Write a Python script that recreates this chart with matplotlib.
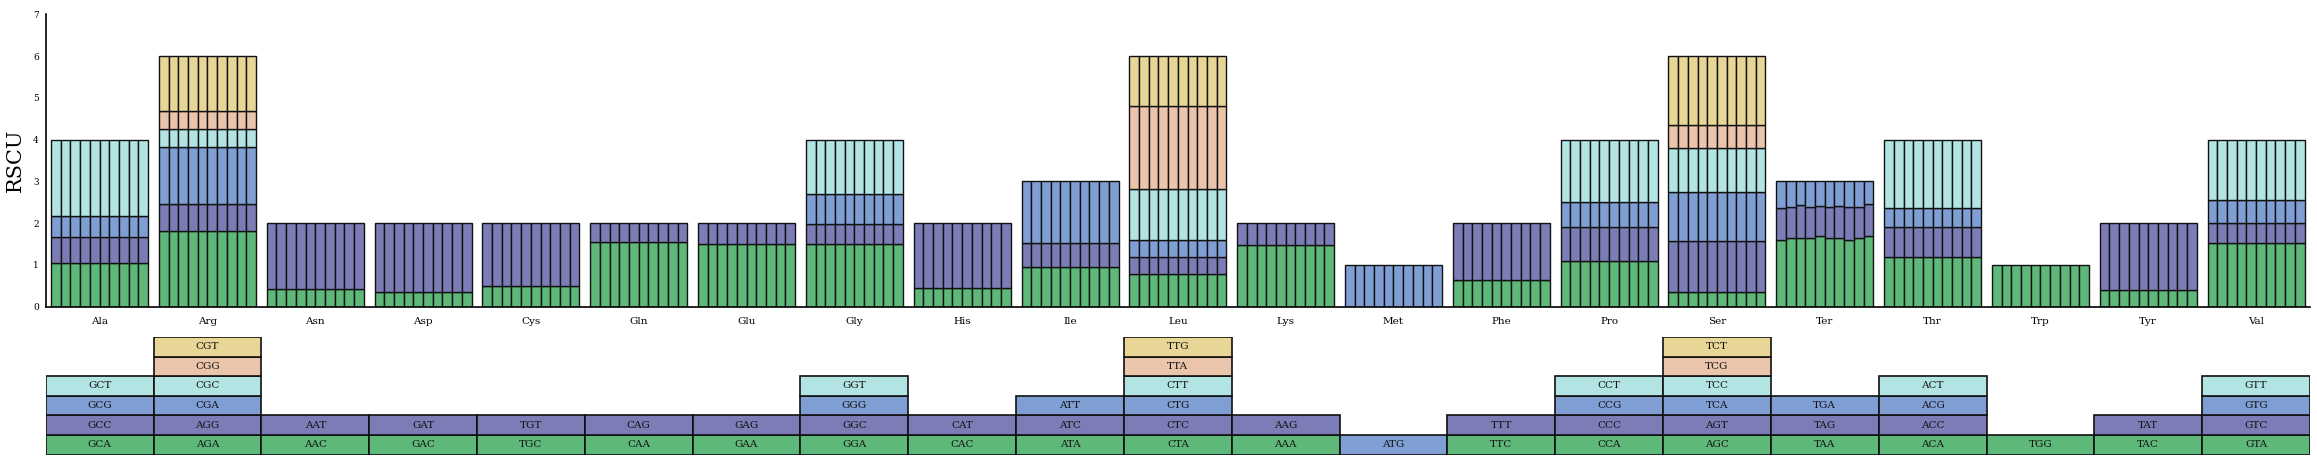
import numpy as np
import matplotlib
matplotlib.use("Agg")
import matplotlib.pyplot as plt
from matplotlib.patches import Rectangle

# ---------------- data ----------------
amino_acids = ['Ala', 'Arg', 'Asn', 'Asp', 'Cys', 'Gln', 'Glu', 'Gly', 'His', 'Ile',
               'Leu', 'Lys', 'Met', 'Phe', 'Pro', 'Ser', 'Ter', 'Thr', 'Trp', 'Tyr', 'Val']
n_samples = 10

ala_codons = ['GCA', 'GCC', 'GCG', 'GCT']
ala_rscu = [1.05, 0.63, 0.49, 1.83]
arg_codons = ['AGA', 'AGG', 'CGA', 'CGC', 'CGG', 'CGT']
arg_rscu = [1.81, 0.66, 1.36, 0.42, 0.43, 1.32]
asn_codons = ['AAC', 'AAT']
asn_rscu = [0.43, 1.57]
asp_codons = ['GAC', 'GAT']
asp_rscu = [0.36, 1.64]
cys_codons = ['TGC', 'TGT']
cys_rscu = [0.50, 1.50]
gln_codons = ['CAA', 'CAG']
gln_rscu = [1.55, 0.45]
glu_codons = ['GAA', 'GAG']
glu_rscu = [1.51, 0.49]
gly_codons = ['GGA', 'GGC', 'GGG', 'GGT']
gly_rscu = [1.50, 0.48, 0.71, 1.31]
his_codons = ['CAC', 'CAT']
his_rscu = [0.44, 1.56]
ile_codons = ['ATA', 'ATC', 'ATT']
ile_rscu = [0.95, 0.57, 1.48]
leu_codons = ['CTA', 'CTC', 'CTG', 'CTT', 'TTA', 'TTG']
leu_rscu = [0.78, 0.41, 0.42, 1.21, 1.98, 1.20]
lys_codons = ['AAA', 'AAG']
lys_rscu = [1.49, 0.51]
met_codons = ['ATG']
met_rscu = [1.00]
phe_codons = ['TTC', 'TTT']
phe_rscu = [0.65, 1.35]
pro_codons = ['CCA', 'CCC', 'CCG', 'CCT']
pro_rscu = [1.10, 0.81, 0.59, 1.50]
ser_codons = ['AGC', 'AGT', 'TCA', 'TCC', 'TCG', 'TCT']
ser_rscu = [0.35, 1.23, 1.17, 1.05, 0.55, 1.65]
ter_codons = ['TAA', 'TAG', 'TGA']
ter_taa = [1.60, 1.64, 1.65, 1.64, 1.69, 1.64, 1.65, 1.61, 1.64, 1.69]
ter_tag = [0.76, 0.75, 0.79, 0.74, 0.73, 0.74, 0.76, 0.77, 0.75, 0.77]
ter_tga = [0.64, 0.61, 0.56, 0.62, 0.58, 0.62, 0.59, 0.62, 0.61, 0.54]
thr_codons = ['ACA', 'ACC', 'ACG', 'ACT']
thr_rscu = [1.19, 0.73, 0.45, 1.63]
trp_codons = ['TGG']
trp_rscu = [1.00]
tyr_codons = ['TAC', 'TAT']
tyr_rscu = [0.40, 1.60]
val_codons = ['GTA', 'GTC', 'GTG', 'GTT']
val_rscu = [1.53, 0.47, 0.55, 1.45]

codon_lists = [ala_codons, arg_codons, asn_codons, asp_codons, cys_codons, gln_codons,
               glu_codons, gly_codons, his_codons, ile_codons, leu_codons, lys_codons,
               met_codons, phe_codons, pro_codons, ser_codons, ter_codons, thr_codons,
               trp_codons, tyr_codons, val_codons]
rscu_lists = [ala_rscu, arg_rscu, asn_rscu, asp_rscu, cys_rscu, gln_rscu, glu_rscu,
              gly_rscu, his_rscu, ile_rscu, leu_rscu, lys_rscu, met_rscu, phe_rscu,
              pro_rscu, ser_rscu, [ter_taa, ter_tag, ter_tga], thr_rscu, trp_rscu,
              tyr_rscu, val_rscu]

# ---------------- style ----------------
palette = ['#5EB87A', '#7C7CB6', '#7F9FD4', '#B3E4E4', '#EBC5AB', '#E8D697']
special_color_index = {'Met': 2}
edge = '#111111'
serif = 'DejaVu Serif'

W, H = 2317, 462
fig = plt.figure(figsize=(W / 100, H / 100), dpi=100)

left = 45.7 / W
width = (2310 - 45.7) / W
ax = fig.add_axes([left, 1 - 306.8 / H, width, 292.6 / H])
axt = fig.add_axes([left, 1 - 454.5 / H, width, 117.6 / H])

group_w = 0.9
bar_w = group_w / n_samples

for i, (aa, cods, vals) in enumerate(zip(amino_acids, codon_lists, rscu_lists)):
    mat = np.array([np.broadcast_to(np.asarray(v, dtype=float), (n_samples,)) for v in vals])
    xs = i - group_w / 2 + bar_w * (np.arange(n_samples) + 0.5)
    bottom = np.zeros(n_samples)
    for k in range(len(cods)):
        ci = special_color_index.get(aa, k)
        ax.bar(xs, mat[k], width=bar_w, bottom=bottom, color=palette[ci],
               edgecolor=edge, linewidth=1.0, zorder=2)
        bottom = bottom + mat[k]
        axt.add_patch(Rectangle((i - 0.5, k), 1, 1, facecolor=palette[ci],
                                edgecolor=edge, linewidth=1.2))
        axt.text(i, k + 0.5, cods[k], ha='center', va='center', fontsize=7.5,
                 family=serif, color='#111111')

ax.set_xlim(-0.5, len(amino_acids) - 0.5)
ax.set_ylim(0, 7)
ax.set_xticks(range(len(amino_acids)))
ax.set_xticklabels(amino_acids, family=serif, fontsize=7.5)
ax.set_yticks(range(0, 8))
ax.set_yticklabels([str(v) for v in range(0, 8)], family=serif, fontsize=6.5)
ax.tick_params(axis='both', length=0)
ax.tick_params(axis='x', pad=7)
ax.tick_params(axis='y', pad=5)
ax.set_ylabel('RSCU', family=serif, fontsize=15, labelpad=6)
for s in ['top', 'right']:
    ax.spines[s].set_visible(False)
ax.spines['left'].set_linewidth(1.2)
ax.spines['bottom'].set_linewidth(1.2)

axt.set_xlim(-0.5, len(amino_acids) - 0.5)
axt.set_ylim(0, 6)
axt.axis('off')

fig.savefig('out.png', dpi=100)
